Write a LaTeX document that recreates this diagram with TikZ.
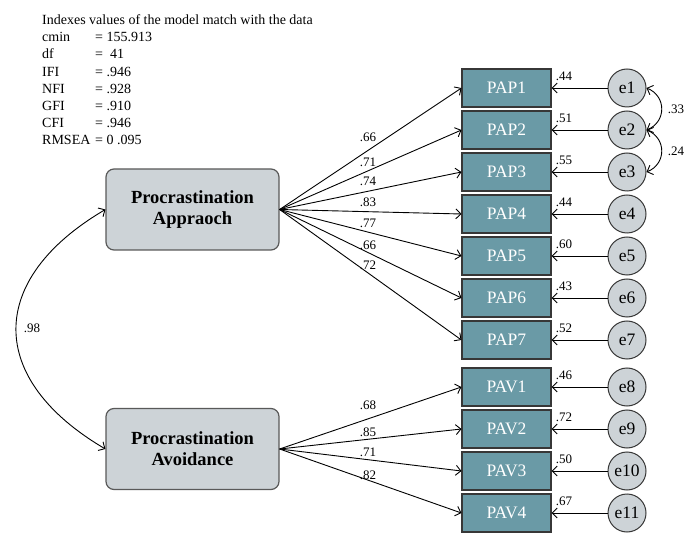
\documentclass[tikz,border=0pt]{standalone}
\usepackage{fontspec}
\setmainfont{Liberation Serif}
\usetikzlibrary{arrows.meta}
\definecolor{teal1}{RGB}{106,154,166}
\definecolor{lgray}{RGB}{205,211,215}
\definecolor{dgray}{RGB}{55,55,55}
\begin{document}
\begin{tikzpicture}[x=1pt,y=-1pt,
  >={Straight Barb[length=5pt,width=10pt]},
  obs/.style={draw=dgray,line width=1.1pt,fill=teal1,minimum width=89pt,minimum height=38pt,inner sep=0pt,text=white,font=\fontsize{17.5}{19}\selectfont},
  err/.style={circle,draw=dgray,line width=1pt,fill=lgray,minimum size=38pt,inner sep=0pt,font=\fontsize{17.5}{19}\selectfont},
  lat/.style={draw=black!65,line width=1.2pt,fill=lgray,rounded corners=8pt,minimum width=173pt,minimum height=81pt,align=center,font=\fontsize{18.5}{21}\selectfont\bfseries},
  conn/.style={->,line width=0.9pt},
  lbl/.style={font=\fontsize{13}{15}\selectfont,inner sep=0pt},
  hdr/.style={font=\fontsize{14}{16}\selectfont,inner sep=0pt,anchor=base west}]
\useasboundingbox (0,0) rectangle (693,534);
% header
\node[hdr] (h0) at (42,25) {Indexes values of the model match with the data};
\node[hdr] (h1) at (42,42) {cmin};   \node[hdr] (v1) at (95,42) {= 155.913};
\node[hdr] (h2) at (42,59) {df};     \node[hdr] (v2) at (95,59) {=\ \ 41};
\node[hdr] (h3) at (42,77) {IFI};    \node[hdr] (v3) at (95,77) {= .946};
\node[hdr] (h4) at (42,94) {NFI};    \node[hdr] (v4) at (95,94) {= .928};
\node[hdr] (h5) at (42,111) {GFI};   \node[hdr] (v5) at (95,111) {= .910};
\node[hdr] (h6) at (42,128) {CFI};   \node[hdr] (v6) at (95,128) {= .946};
\node[hdr] (h7) at (42,145) {RMSEA}; \node[hdr] (v7) at (95,145) {= 0 .095};
% latent
\node[lat] (PA) at (192.5,209.5) {Procrastination\\Appraoch};
\node[lat] (PV) at (192.5,449) {Procrastination\\Avoidance};
% observed and errors
\foreach \i/\y in {1/88,2/130,3/172,4/214,5/256,6/298,7/340}{
  \node[obs] (P\i) at (506.5,\y) {PAP\i};
  \node[err] (e\i) at (627,\y) {e\i};
  \draw[conn] (e\i) -- (P\i);
  \draw[conn] (PA.east) -- (P\i.west);
}
\foreach \i/\y/\e in {1/387/8,2/429/9,3/471/10,4/513/11}{
  \node[obs] (V\i) at (506.5,\y) {PAV\i};
  \node[err] (e\e) at (627,\y) {e\e};
  \draw[conn] (e\e) -- (V\i);
  \draw[conn] (PV.east) -- (V\i.west);
}
% residual labels
\foreach \n/\t in {P1/.44,P2/.51,P3/.55,P4/.44,P5/.60,P6/.43,P7/.52,V1/.46,V2/.72,V3/.50,V4/.67}{
  \node[lbl,anchor=west] at ([xshift=4pt,yshift=12pt]\n.east) {\t};
}
% loading labels
\foreach \y/\t in {137/.66,162/.71,181/.74,202/.83,223/.77,245/.66,265/.72,405/.68,432/.85,452/.71,475/.82}{
  \node[lbl] at (368,\y) {\t};
}
% covariances
\draw[<->,line width=0.9pt] (e1.east) .. controls +(20,8) and +(20,-8) .. (e2.east);
\draw[<->,line width=0.9pt] (e2.east) .. controls +(20,8) and +(20,-8) .. (e3.east);
\node[lbl] (c1) at (676,109) {.33};
\node[lbl] (c2) at (676,151) {.24};
\draw[<->,line width=0.9pt] (PA.west) .. controls +(-119,70) and +(-119,-70) .. (PV.west);
\node[lbl] (c3) at (32,328) {.98};
\end{tikzpicture}
\end{document}
